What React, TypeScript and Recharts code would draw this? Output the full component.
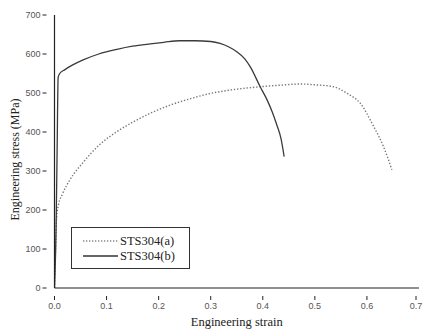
import React from 'react';
import { LineChart, Line, XAxis, YAxis, Legend } from 'recharts';

// STS304(a) – dotted curve
const strainA = [0, 0.002, 0.004, 0.008, 0.015, 0.03, 0.055, 0.087, 0.12, 0.15, 0.184, 0.222, 0.26, 0.3, 0.34, 0.395, 0.433, 0.472, 0.5, 0.536, 0.562, 0.587, 0.613, 0.632, 0.648];
const stressA = [0, 100, 180, 215, 240, 278, 322, 368, 401, 425, 448, 469, 485, 499, 508, 516, 520, 523, 521, 516, 499, 474, 414, 362, 303];

// STS304(b) – solid curve
const strainB = [0, 0.003, 0.005, 0.007, 0.01, 0.02, 0.035, 0.055, 0.085, 0.12, 0.15, 0.184, 0.21, 0.24, 0.27, 0.3, 0.318, 0.335, 0.35, 0.365, 0.376, 0.395, 0.408, 0.418, 0.427, 0.435, 0.441];
const stressB = [0, 150, 350, 540, 550, 560, 572, 585, 600, 612, 620, 626, 630, 634, 634, 632, 627, 618, 606, 588, 567, 516, 483, 452, 418, 383, 337];

const seriesNames = ['STS304(a)', 'STS304(b)'];
const xTicks = [0, 0.05, 0.1, 0.15, 0.2, 0.25, 0.3, 0.35, 0.4, 0.45, 0.5, 0.55, 0.6, 0.65, 0.7];
const yTicks = [0, 50, 100, 150, 200, 250, 300, 350, 400, 450, 500, 550, 600, 650, 700];

const dataA = strainA.map((s, i) => ({ strain: s, stress: stressA[i] }));
const dataB = strainB.map((s, i) => ({ strain: s, stress: stressB[i] }));

const tickColor = '#555';

const XTick = (props: any) => {
  const { x, y, payload } = props;
  const v = Math.round(payload.value * 100);
  const major = v % 10 === 0;
  return (
    <g>
      <line x1={x} x2={x} y1={y} y2={y + (major ? 4 : 2.5)} stroke="#222" strokeWidth={1} />
      {major && (
        <text x={x} y={y + 13} textAnchor="middle" fontSize={9} fill={tickColor} fontFamily="Liberation Sans, Arial, sans-serif">
          {(payload.value).toFixed(1)}
        </text>
      )}
    </g>
  );
};

const YTick = (props: any) => {
  const { x, y, payload } = props;
  const major = payload.value % 100 === 0;
  return (
    <g>
      <line x1={x} x2={x - (major ? 4 : 2.5)} y1={y} y2={y} stroke="#222" strokeWidth={1} />
      {major && (
        <text x={x - 6} y={y + 3} textAnchor="end" fontSize={9} fill={tickColor} fontFamily="Liberation Sans, Arial, sans-serif">
          {payload.value}
        </text>
      )}
    </g>
  );
};

const LegendBox = () => (
  <div
    style={{
      border: '1px solid #333',
      width: 117,
      height: 40,
      background: '#fff',
      fontFamily: 'Liberation Serif, Times New Roman, serif',
      fontSize: 12.5,
      color: '#222',
      boxSizing: 'content-box',
    }}
  >
    <div style={{ display: 'flex', alignItems: 'center', height: 14, marginTop: 6 }}>
      <svg width={48} height={6} style={{ display: 'block' }}>
        <line x1={11} x2={46} y1={3} y2={3} stroke="#888" strokeWidth={1.3} strokeDasharray="1.3 1.7" />
      </svg>
      <span style={{ lineHeight: '14px' }}>{seriesNames[0]}</span>
    </div>
    <div style={{ display: 'flex', alignItems: 'center', height: 14, marginTop: 1 }}>
      <svg width={48} height={6} style={{ display: 'block' }}>
        <line x1={11} x2={46} y1={3} y2={3} stroke="#333" strokeWidth={1.3} />
      </svg>
      <span style={{ lineHeight: '14px' }}>{seriesNames[1]}</span>
    </div>
  </div>
);

const YLabel = (props: any) => {
  const { viewBox } = props;
  const cx = viewBox.x + 10;
  const cy = viewBox.y + viewBox.height / 2 + 8;
  return (
    <text
      x={cx}
      y={cy}
      transform={`rotate(-90 ${cx} ${cy})`}
      textAnchor="middle"
      dominantBaseline="central"
      fontSize={12}
      fill="#222"
      fontFamily="Liberation Serif, Times New Roman, serif"
    >
      Engineering stress (MPa)
    </text>
  );
};

export default function App() {
  return (
    <div style={{ position: 'absolute', left: 0, top: 0, background: '#fff' }}>
      <LineChart width={426} height={330} margin={{ top: 15, right: 7, bottom: 0, left: 4.5 }}>
        <XAxis
          dataKey="strain"
          type="number"
          domain={[0, 0.7]}
          ticks={xTicks}
          allowDataOverflow
          tick={<XTick />}
          tickLine={false}
          axisLine={{ stroke: '#222', strokeWidth: 1.2 }}
          height={42}
          label={{
            value: 'Engineering strain',
            position: 'insideBottom',
            offset: 4,
            fontSize: 12.5,
            fill: '#222',
            fontFamily: 'Liberation Serif, Times New Roman, serif',
          }}
        />
        <YAxis
          dataKey="stress"
          type="number"
          domain={[0, 700]}
          ticks={yTicks}
          allowDataOverflow
          tick={<YTick />}
          tickLine={false}
          axisLine={{ stroke: '#222', strokeWidth: 1.2 }}
          width={50}
          label={<YLabel />}
        />
        <Legend
          layout="horizontal"
          verticalAlign="middle"
          align="center"
          content={<LegendBox />}
          wrapperStyle={{ position: 'absolute', left: 71, top: 227, width: 'auto' }}
        />
        <Line
          data={dataA}
          dataKey="stress"
          name={seriesNames[0]}
          type="monotone"
          stroke="#7a7a7a"
          strokeWidth={1.4}
          strokeDasharray="1.4 1.8"
          dot={false}
          isAnimationActive={false}
        />
        <Line
          data={dataB}
          dataKey="stress"
          name={seriesNames[1]}
          type="monotone"
          stroke="#3a3a3a"
          strokeWidth={1.3}
          dot={false}
          isAnimationActive={false}
        />
      </LineChart>
    </div>
  );
}
